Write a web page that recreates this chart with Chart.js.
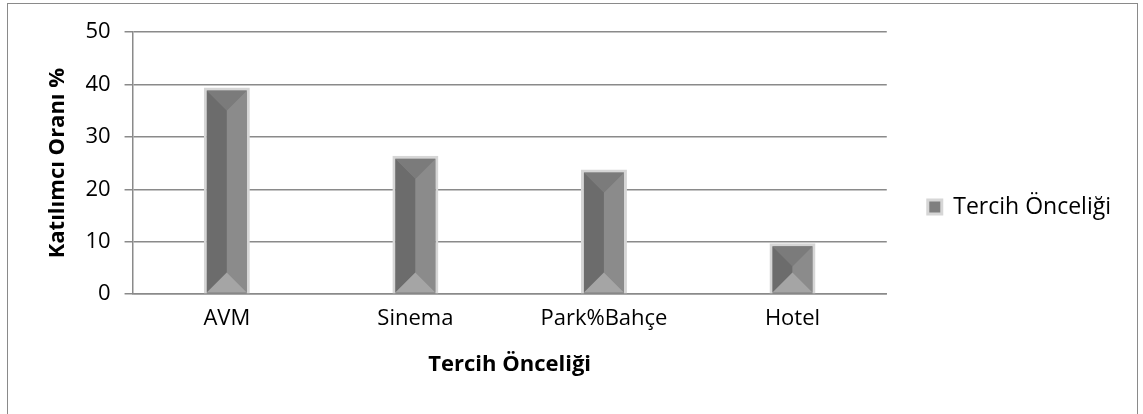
<!DOCTYPE html>
<html>
<head>
<meta charset="utf-8">
<script src="https://cdn.jsdelivr.net/npm/chart.js@4"></script>
<style>
  body { margin: 0; background: #fff; }
</style>
</head>
<body>
<canvas id="prefChart" width="1143" height="414"></canvas>
<script>
// Chart data
const categories = ['AVM', 'Sinema', 'Park%Bahçe', 'Hotel'];
const seriesName = 'Tercih Önceliği';
const seriesValues = [39.4, 26.4, 23.8, 9.7];
const yTicks = [0, 10, 20, 30, 40, 50];

Chart.defaults.font.family = "'Open Sans', sans-serif";
Chart.defaults.color = '#000';

const LEGEND_GAP = 29;

function poly(ctx, pts, color) {
    ctx.beginPath();
    ctx.moveTo(pts[0][0], pts[0][1]);
    for (let i = 1; i < pts.length; i++) ctx.lineTo(pts[i][0], pts[i][1]);
    ctx.closePath();
    ctx.fillStyle = color;
    ctx.fill();
}

// White background + outer frame
const frame = {
    id: 'frame',
    beforeDraw(chart) {
        const ctx = chart.ctx;
        ctx.save();
        ctx.fillStyle = '#fff';
        ctx.fillRect(0, 0, chart.width, chart.height);
        ctx.strokeStyle = '#8a8a8a';
        ctx.lineWidth = 1;
        ctx.strokeRect(7.5, 3.5, 1130, 430);
        ctx.restore();
    }
};

// Extra space between the plot and the legend
const legendGap = {
    id: 'legendGap',
    beforeLayout(chart) {
        const lg = chart.legend;
        if (lg && !lg._gapPatched) {
            const fit = lg.fit;
            lg.fit = function() {
                fit.call(this);
                this.width += LEGEND_GAP;
            };
            lg._gapPatched = true;
        }
    },
    afterLayout(chart) {
        if (chart.legend) {
            chart.legend.left += LEGEND_GAP;
            chart.legend.width -= LEGEND_GAP;
        }
    }
};

// Bevelled look of the bars, built from the bar elements
const bevelBars = {
    id: 'bevelBars',
    afterDatasetsDraw(chart) {
        const ctx = chart.ctx;
        ctx.save();
        chart.getDatasetMeta(0).data.forEach(function(bar) {
            const p = bar.getProps(['x', 'y', 'base', 'width'], true);
            const il = p.x - p.width / 2 + 3, ir = p.x + p.width / 2 - 3;
            const it = p.y + 3, ib = p.base - 1;
            const d = Math.min((ir - il) / 2, (ib - it) / 2);
            const cx = p.x;
            poly(ctx, [[il, it], [cx, it + d], [cx, ib - d], [il, ib]], '#6c6c6c');
            poly(ctx, [[ir, it], [cx, it + d], [cx, ib - d], [ir, ib]], '#8b8b8b');
            poly(ctx, [[il, it], [ir, it], [cx, it + d]], '#7b7b7b');
            poly(ctx, [[il, ib], [ir, ib], [cx, ib - d]], '#a5a5a5');
        });
        ctx.restore();
    }
};

const ctx = document.getElementById('prefChart').getContext('2d');
const prefChart = new Chart(ctx, {
    type: 'bar',
    data: {
        labels: categories,
        datasets: [{
            label: seriesName,
            data: seriesValues,
            backgroundColor: '#7f7f7f',
            borderColor: '#d6d6d6',
            borderWidth: 3,
            categoryPercentage: 1,
            barPercentage: 0.244
        }]
    },
    options: {
        responsive: false,
        animation: false,
        layout: {
            padding: { left: 31, right: 22, top: 32, bottom: 32 }
        },
        plugins: {
            legend: {
                position: 'right',
                labels: {
                    boxWidth: 14,
                    boxHeight: 14,
                    padding: 12,
                    font: { size: 23 }
                }
            },
            tooltip: { enabled: false }
        },
        scales: {
            x: {
                grid: { display: false },
                border: { color: '#8a8a8a', width: 1.5 },
                ticks: { font: { size: 22 }, padding: 3 },
                title: {
                    display: true,
                    text: 'Tercih Önceliği',
                    font: { size: 22, weight: 'bold' },
                    padding: { top: 17 }
                }
            },
            y: {
                min: 0,
                max: 50,
                afterBuildTicks: function(axis) {
                    axis.ticks = yTicks.map(v => ({ value: v }));
                },
                grid: { color: '#8a8a8a', lineWidth: 1.5, tickLength: 8 },
                border: { color: '#8a8a8a', width: 1.5 },
                ticks: { font: { size: 22 }, padding: 14 },
                title: {
                    display: true,
                    text: 'Katılımcı Oranı %',
                    font: { size: 22, weight: 'bold' },
                    padding: { top: 14, bottom: 0 }
                }
            }
        }
    },
    plugins: [frame, legendGap, bevelBars]
});
</script>
</body>
</html>
